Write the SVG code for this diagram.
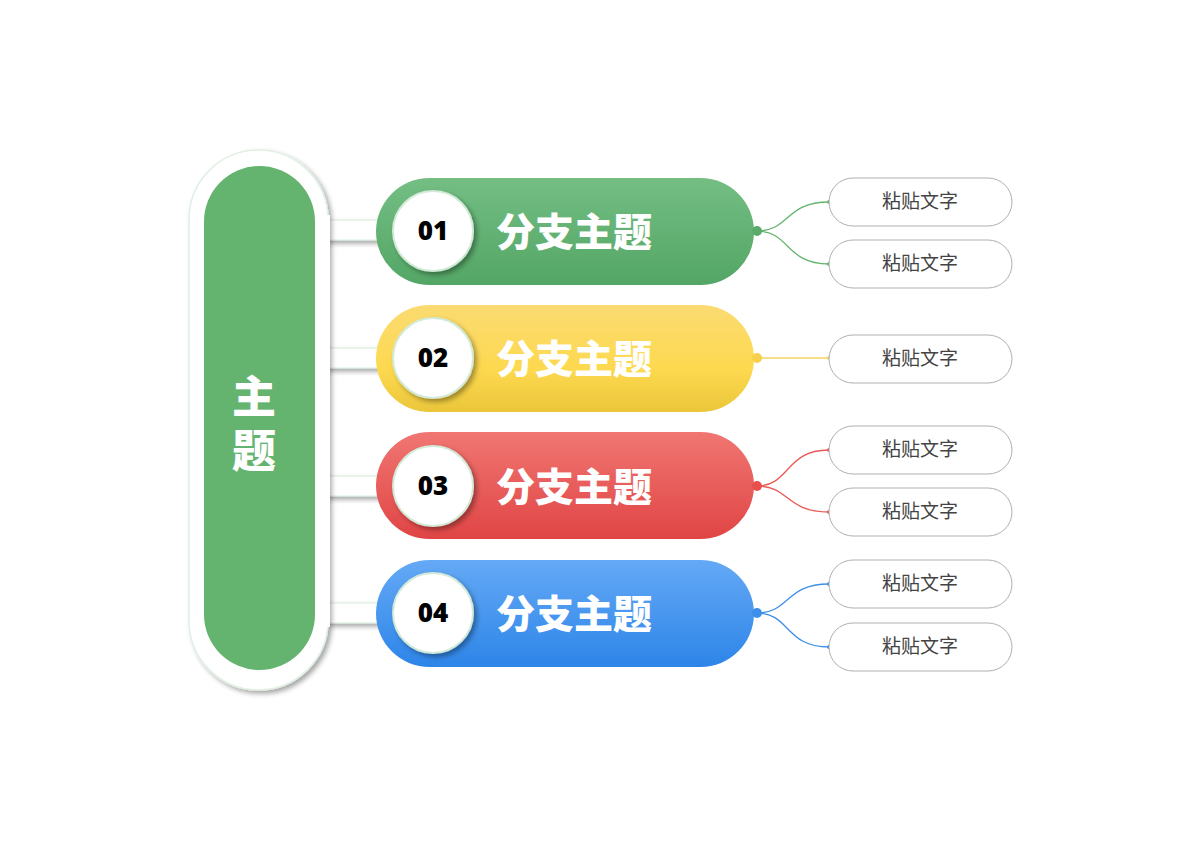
<svg xmlns="http://www.w3.org/2000/svg" width="1200" height="848" viewBox="0 0 1200 848">
<style>
.num{font-family:"Open Sans","Liberation Sans",sans-serif;font-weight:800;font-size:26px;fill:#000;text-anchor:middle}
.tt{font-family:"Noto Sans CJK SC",sans-serif;font-weight:900;font-size:39px;fill:#fff;text-anchor:middle}
.mt{font-family:"Noto Sans CJK SC",sans-serif;font-weight:900;font-size:44px;fill:#fff;text-anchor:middle}
.lf{font-family:"Noto Sans CJK SC",sans-serif;font-size:19px;fill:#444;text-anchor:middle}
.leaf{fill:#fff;stroke:#b0b0b0;stroke-width:1}
.circ{fill:#fff;stroke:#d3ead8;stroke-width:2}
</style>
<defs>
<filter id="sh" x="-20%" y="-20%" width="150%" height="150%"><feDropShadow dx="3" dy="3" stdDeviation="2.5" flood-color="#000" flood-opacity="0.35"/></filter>
<linearGradient id="g1" x1="0" y1="0" x2="0" y2="1"><stop offset="0" stop-color="#74be84"/><stop offset="1" stop-color="#53a665"/></linearGradient>
<linearGradient id="g2" x1="0" y1="0" x2="0" y2="1"><stop offset="0" stop-color="#fbdb72"/><stop offset="0.6" stop-color="#fdd94f"/><stop offset="1" stop-color="#ebc63b"/></linearGradient>
<linearGradient id="g3" x1="0" y1="0" x2="0" y2="1"><stop offset="0" stop-color="#f07672"/><stop offset="1" stop-color="#e04545"/></linearGradient>
<linearGradient id="g4" x1="0" y1="0" x2="0" y2="1"><stop offset="0" stop-color="#64a9f6"/><stop offset="1" stop-color="#2d85e8"/></linearGradient>
</defs>
<g id="connectors" fill="none" stroke-width="1.3">
<g filter="url(#sh)" fill="#fff" stroke="#d6ecda" stroke-width="1">
<rect x="318" y="220" width="80" height="20"/>
<rect x="318" y="348" width="80" height="20"/>
<rect x="318" y="476" width="80" height="20"/>
<rect x="318" y="603" width="80" height="20"/>
</g>
<path d="M757 231 C790 231 785 202 829 202 M757 231 C790 231 785 264 829 264" stroke="#64b470"/>
<path d="M757 358 L829 358" stroke="#f3d365"/>
<path d="M757 486 C790 486 785 450 829 450 M757 486 C790 486 785 512 829 512" stroke="#e85a56"/>
<path d="M757 613 C790 613 785 584 829 584 M757 613 C790 613 785 647 829 647" stroke="#3f8fe8"/>
<circle cx="829" cy="202" r="2" fill="#64b470"/><circle cx="829" cy="264" r="2" fill="#64b470"/>
<circle cx="829" cy="358" r="2" fill="#f3d365"/>
<circle cx="829" cy="450" r="2" fill="#e85a56"/><circle cx="829" cy="512" r="2" fill="#e85a56"/>
<circle cx="829" cy="584" r="2" fill="#3f8fe8"/><circle cx="829" cy="647" r="2" fill="#3f8fe8"/>
</g>
<g id="main">
<rect x="189" y="150" width="139" height="540" rx="69.5" fill="#fff" stroke="#e0f0e3" stroke-width="1.5" filter="url(#sh)"/>
<rect x="318" y="215" width="12" height="412" fill="#fff"/>
<rect x="204" y="166" width="111" height="504" rx="55.5" fill="#64b470"/>
<text x="254" y="413" class="mt">主</text>
<text x="254" y="467" class="mt">题</text>
</g>
<g id="b1"><rect x="376" y="178" width="378" height="107" rx="53.5" fill="url(#g1)"/><circle cx="757" cy="231" r="5" fill="#5aab6a"/><circle cx="433" cy="231" r="40" class="circ" filter="url(#sh)"/><text x="433" y="240" class="num">01</text><text x="574" y="246" class="tt">分支主题</text></g>
<g id="b2"><rect x="376" y="305" width="378" height="107" rx="53.5" fill="url(#g2)"/><circle cx="757" cy="358" r="5" fill="#f6d04a"/><circle cx="433" cy="358" r="40" class="circ" filter="url(#sh)"/><text x="433" y="367" class="num">02</text><text x="574" y="373" class="tt">分支主题</text></g>
<g id="b3"><rect x="376" y="432" width="378" height="107" rx="53.5" fill="url(#g3)"/><circle cx="757" cy="486" r="5" fill="#e85050"/><circle cx="433" cy="486" r="40" class="circ" filter="url(#sh)"/><text x="433" y="495" class="num">03</text><text x="574" y="501" class="tt">分支主题</text></g>
<g id="b4"><rect x="376" y="560" width="378" height="107" rx="53.5" fill="url(#g4)"/><circle cx="757" cy="613" r="5" fill="#3d8fec"/><circle cx="433" cy="613" r="40" class="circ" filter="url(#sh)"/><text x="433" y="622" class="num">04</text><text x="574" y="628" class="tt">分支主题</text></g>
<g id="l1"><rect x="829" y="178" width="183" height="48" rx="24" class="leaf"/><text x="920" y="208" class="lf">粘贴文字</text></g>
<g id="l2"><rect x="829" y="240" width="183" height="48" rx="24" class="leaf"/><text x="920" y="270" class="lf">粘贴文字</text></g>
<g id="l3"><rect x="829" y="335" width="183" height="48" rx="24" class="leaf"/><text x="920" y="365" class="lf">粘贴文字</text></g>
<g id="l4"><rect x="829" y="426" width="183" height="48" rx="24" class="leaf"/><text x="920" y="456" class="lf">粘贴文字</text></g>
<g id="l5"><rect x="829" y="488" width="183" height="48" rx="24" class="leaf"/><text x="920" y="518" class="lf">粘贴文字</text></g>
<g id="l6"><rect x="829" y="560" width="183" height="48" rx="24" class="leaf"/><text x="920" y="590" class="lf">粘贴文字</text></g>
<g id="l7"><rect x="829" y="623" width="183" height="48" rx="24" class="leaf"/><text x="920" y="653" class="lf">粘贴文字</text></g>
</svg>
